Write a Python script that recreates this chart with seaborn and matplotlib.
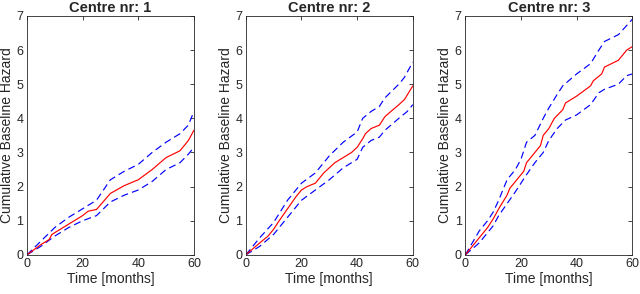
import pandas as pd
import matplotlib
matplotlib.use("Agg")
import matplotlib.pyplot as plt
import seaborn as sns

# Centre 1
c1_t = [0, 5, 8, 9, 10, 15, 20, 22, 25, 30, 35, 40, 45, 50, 55, 58, 60]
c1_est = [0, 0.3, 0.45, 0.6, 0.65, 0.9, 1.15, 1.28, 1.33, 1.8, 2.03, 2.2, 2.5, 2.85, 3.05, 3.35, 3.65]
c1_up_t = [0, 5, 10, 15, 20, 25, 30, 35, 40, 45, 50, 55, 58, 60]
c1_up = [0, 0.4, 0.8, 1.1, 1.35, 1.6, 2.2, 2.45, 2.65, 3.0, 3.3, 3.55, 3.8, 4.2]
c1_lo = [0, 0.25, 0.55, 0.8, 1.0, 1.15, 1.55, 1.75, 1.9, 2.15, 2.5, 2.7, 2.95, 3.15]

# Centre 2
c2_t = [0, 5, 8, 10, 12, 15, 18, 20, 22, 25, 28, 32, 35, 38, 40, 42, 43, 45, 48, 50, 55, 57, 60]
c2_est = [0, 0.35, 0.55, 0.75, 1.0, 1.35, 1.7, 1.9, 2.0, 2.1, 2.4, 2.7, 2.85, 3.0, 3.15, 3.4, 3.55,
          3.7, 3.8, 4.05, 4.4, 4.55, 4.95]
c2_up_t = [0, 5, 10, 15, 20, 25, 30, 35, 40, 42, 45, 48, 50, 55, 57, 60]
c2_up = [0, 0.5, 0.95, 1.6, 2.1, 2.4, 2.9, 3.3, 3.6, 4.0, 4.2, 4.35, 4.6, 5.0, 5.2, 5.65]
c2_lo_t = [0, 5, 10, 15, 20, 25, 30, 35, 40, 42, 45, 48, 50, 55, 58, 60]
c2_lo = [0, 0.25, 0.6, 1.1, 1.6, 1.9, 2.2, 2.55, 2.8, 3.15, 3.35, 3.45, 3.65, 4.0, 4.2, 4.4]

# Centre 3
c3_t = [0, 5, 8, 10, 12, 15, 16, 20, 21, 22, 25, 27, 28, 30, 32, 35, 36, 40, 45, 46, 49, 50, 55, 58, 60]
c3_est = [0, 0.5, 0.8, 1.05, 1.35, 1.75, 1.95, 2.35, 2.45, 2.7, 3.0, 3.2, 3.5, 3.7, 4.0, 4.25, 4.45,
          4.65, 4.95, 5.1, 5.3, 5.5, 5.7, 6.0, 6.1]
c3_up_t = [0, 5, 8, 10, 12, 15, 18, 20, 22, 25, 28, 30, 33, 35, 40, 45, 48, 50, 55, 60]
c3_up = [0, 0.7, 1.0, 1.25, 1.6, 2.2, 2.5, 2.8, 3.3, 3.5, 4.0, 4.3, 4.7, 4.95, 5.3, 5.6, 6.0, 6.25, 6.45, 6.9]
c3_lo_t = [0, 5, 8, 10, 12, 15, 18, 20, 22, 25, 28, 30, 33, 36, 40, 45, 48, 50, 55, 58, 60]
c3_lo = [0, 0.35, 0.65, 0.85, 1.15, 1.5, 1.85, 2.1, 2.35, 2.7, 3.0, 3.35, 3.7, 3.95, 4.1, 4.4, 4.75,
         4.85, 5.0, 5.25, 5.3]

centres = [
    (1, c1_t, c1_est, c1_up_t, c1_up, c1_up_t, c1_lo),
    (2, c2_t, c2_est, c2_up_t, c2_up, c2_lo_t, c2_lo),
    (3, c3_t, c3_est, c3_up_t, c3_up, c3_lo_t, c3_lo),
]

sns.set_style("white")
plt.rcParams['font.family'] = ['Liberation Sans', 'DejaVu Sans']

fig = plt.figure(figsize=(6.4, 2.94), dpi=100)
lefts = [0.042, 0.384, 0.727]
axc = "#262626"

for left, (nr, t, est, ut, up, lt, lo) in zip(lefts, centres):
    ax = fig.add_axes([left, 0.133, 0.261, 0.813])
    sns.lineplot(x=ut, y=up, ax=ax, color="blue", linewidth=0.85, dashes=False,
                 linestyle=(0, (6, 3.5)))
    sns.lineplot(x=lt, y=lo, ax=ax, color="blue", linewidth=0.85, dashes=False,
                 linestyle=(0, (6, 3.5)))
    sns.lineplot(x=t, y=est, ax=ax, color="red", linewidth=0.85)
    ax.set_xlim(0, 60)
    ax.set_ylim(0, 7)
    ax.set_xticks([0, 20, 40, 60])
    ax.set_yticks(range(0, 8))
    ax.tick_params(direction="in", top=True, right=True, length=3, width=0.6,
                   labelsize=9, colors=axc, pad=2.5)
    for s in ax.spines.values():
        s.set_color(axc)
        s.set_linewidth(0.6)
    ax.set_xlabel("Time [months]", fontsize=10, color=axc, labelpad=1.5)
    ax.set_ylabel("Cumulative Baseline Hazard", fontsize=10, color=axc, labelpad=2)
    ax.set_title(f"Centre nr: {nr}", fontsize=10.5, fontweight="bold", pad=2.5)

plt.savefig("out.png", dpi=100)
